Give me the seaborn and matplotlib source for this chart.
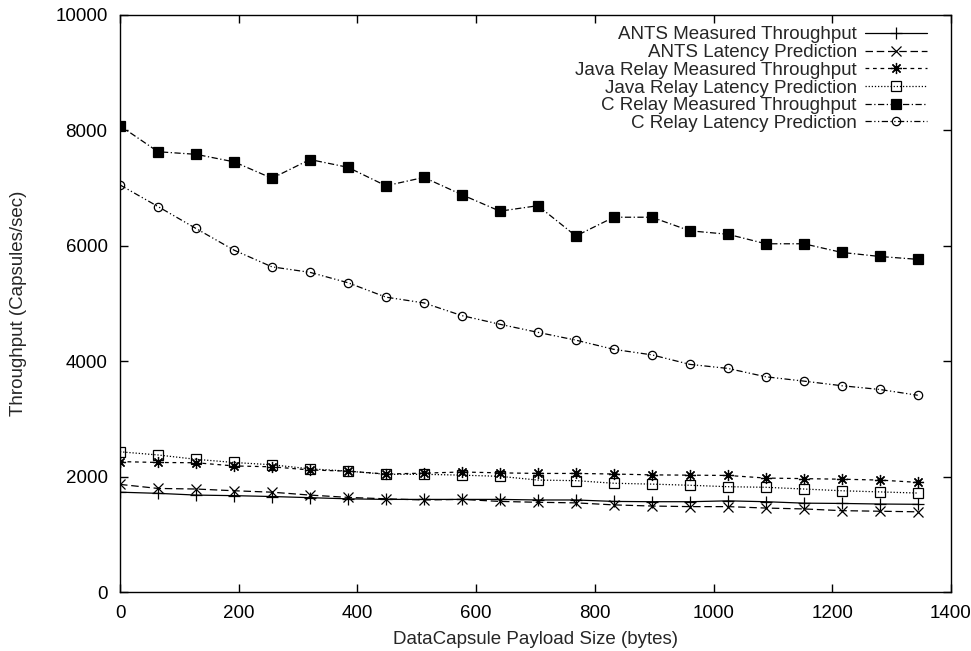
import matplotlib
matplotlib.use("Agg")
import matplotlib.pyplot as plt
import seaborn as sns
import pandas as pd

payload = [0, 64, 128, 192, 256, 320, 384, 448, 512, 576, 640, 704,
           768, 832, 896, 960, 1024, 1088, 1152, 1216, 1280, 1344]

ants_measured = [1730, 1710, 1680, 1670, 1655, 1635, 1615, 1605, 1605, 1605, 1605, 1595,
                 1595, 1570, 1565, 1565, 1580, 1565, 1540, 1535, 1525, 1520]
ants_latency = [1865, 1795, 1785, 1755, 1730, 1680, 1640, 1615, 1595, 1605, 1570, 1555,
                1545, 1510, 1490, 1480, 1480, 1455, 1440, 1410, 1400, 1390]
java_measured = [2260, 2245, 2240, 2185, 2170, 2115, 2095, 2045, 2060, 2080, 2065, 2055,
                 2055, 2045, 2030, 2025, 2020, 1975, 1965, 1955, 1940, 1900]
java_latency = [2430, 2375, 2300, 2245, 2205, 2135, 2095, 2040, 2040, 2025, 2005, 1940,
                1930, 1885, 1870, 1850, 1825, 1815, 1785, 1755, 1735, 1715]
c_measured = [8080, 7630, 7585, 7455, 7170, 7495, 7360, 7040, 7185, 6885, 6600, 6695,
              6170, 6495, 6495, 6260, 6200, 6035, 6035, 5885, 5815, 5765]
c_latency = [7055, 6680, 6300, 5925, 5635, 5540, 5360, 5110, 5010, 4790, 4640, 4500,
             4365, 4205, 4110, 3945, 3875, 3730, 3655, 3575, 3510, 3410]

series = [
    ("ANTS Measured Throughput", ants_measured),
    ("ANTS Latency Prediction", ants_latency),
    ("Java Relay Measured Throughput", java_measured),
    ("Java Relay Latency Prediction", java_latency),
    ("C Relay Measured Throughput", c_measured),
    ("C Relay Latency Prediction", c_latency),
]

# gnuplot-like point/line styles
styles = {
    "ANTS Measured Throughput": dict(marker="+", linestyle="-", markersize=8, fillstyle="full"),
    "ANTS Latency Prediction": dict(marker="x", linestyle=(0, (6, 3)), markersize=7, fillstyle="full"),
    "Java Relay Measured Throughput": dict(marker=(8, 2, 0), linestyle=(0, (3, 3)), markersize=8, fillstyle="full"),
    "Java Relay Latency Prediction": dict(marker="s", linestyle=(0, (1, 1.5)), markersize=6.5, fillstyle="none"),
    "C Relay Measured Throughput": dict(marker="s", linestyle=(0, (5, 2, 1, 2)), markersize=7, fillstyle="full"),
    "C Relay Latency Prediction": dict(marker="o", linestyle=(0, (5, 2, 1, 2, 1, 2)), markersize=6, fillstyle="none"),
}

sns.set_theme(style="ticks")
plt.rcParams["font.family"] = ["Liberation Sans", "DejaVu Sans"]

FS = 13.5

fig = plt.figure(figsize=(9.71, 6.51), dpi=100)
ax = fig.add_axes([0.1236, 0.0906, 0.8558, 0.8864])

for name, vals in series:
    df = pd.DataFrame({"x": payload, "y": vals})
    st = styles[name]
    sns.lineplot(data=df, x="x", y="y", ax=ax, label=name, color="black",
                 linewidth=0.9, marker=st["marker"], linestyle=st["linestyle"],
                 markersize=st["markersize"], fillstyle=st["fillstyle"],
                 mec="black", mew=0.9)

ax.set_xlim(0, 1400)
ax.set_ylim(0, 10000)
ax.set_xticks(range(0, 1401, 200))
ax.set_yticks(range(0, 10001, 2000))
ax.tick_params(direction="in", top=True, right=True, length=6, width=1,
               labelsize=FS, colors="black", pad=9)
for sp in ax.spines.values():
    sp.set_linewidth(1)
    sp.set_color("black")

ax.set_xlabel("DataCapsule Payload Size (bytes)", fontsize=FS, labelpad=7)
ax.set_ylabel("Throughput (Capsules/sec)", fontsize=FS, labelpad=20)

leg = ax.legend(loc="upper right", frameon=False, markerfirst=False,
                fontsize=FS, handlelength=3.3, handletextpad=0.45,
                labelspacing=0.03, borderpad=0.3, borderaxespad=0.0,
                bbox_to_anchor=(0.978, 0.99))

fig.savefig("out.png", dpi=100)
